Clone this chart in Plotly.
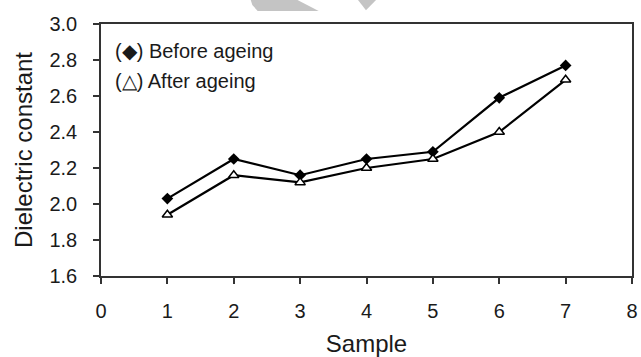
import plotly.graph_objects as go

# Dielectric constant of the seven samples, before and after ageing
samples = [1, 2, 3, 4, 5, 6, 7]
before_ageing = [2.03, 2.25, 2.16, 2.25, 2.29, 2.59, 2.77]
after_ageing = [1.94, 2.16, 2.12, 2.20, 2.25, 2.40, 2.69]

x_ticks = [0, 1, 2, 3, 4, 5, 6, 7, 8]
y_ticks = [1.6, 1.8, 2.0, 2.2, 2.4, 2.6, 2.8, 3.0]

FONT = "Liberation Sans, Arial, sans-serif"
TEXT = "#1a1a1a"

fig = go.Figure()

fig.add_trace(go.Scatter(
    x=samples, y=before_ageing, mode="lines+markers", name="Before ageing",
    line=dict(color="black", width=2.2),
    marker=dict(symbol="diamond", size=9, color="black"),
))
fig.add_trace(go.Scatter(
    x=samples, y=after_ageing, mode="lines+markers", name="After ageing",
    line=dict(color="black", width=2.2),
    marker=dict(symbol="triangle-up", size=9, color="white",
                line=dict(color="black", width=1.5)),
))

axis_common = dict(
    showline=True, linecolor="#333333", linewidth=1.5, mirror=True,
    showgrid=False, zeroline=False, automargin=False,
    ticklabeloverflow="allow",
    ticks="outside", ticklen=6, tickwidth=1.5, tickcolor="#333333",
    tickfont=dict(family=FONT, size=20, color=TEXT),
    title_font=dict(family=FONT, size=24, color=TEXT),
)

fig.update_xaxes(
    range=[0, 8], tickmode="array", tickvals=x_ticks,
    ticklabelstandoff=10,
    title_text="Sample", title_standoff=22,
    **axis_common,
)
fig.update_yaxes(
    range=[1.6, 3.0], tickmode="array", tickvals=y_ticks,
    ticktext=[f"{v:.1f}" for v in y_ticks],
    ticklabelstandoff=12,
    title_text="Dielectric constant", title_standoff=10,
    **axis_common,
)

# In-plot key
fig.add_annotation(
    x=0.022, y=0.893, xref="paper", yref="paper", xanchor="left", yanchor="middle",
    text="(\u25C6) Before ageing", showarrow=False,
    font=dict(family=FONT, size=20, color=TEXT),
)
fig.add_annotation(
    x=0.022, y=0.774, xref="paper", yref="paper", xanchor="left", yanchor="middle",
    text="(\u25B3) After ageing", showarrow=False,
    font=dict(family=FONT, size=20, color=TEXT),
)

# Light grey watermark fragments at the top edge
fig.add_shape(type="path", xref="paper", yref="paper",
              path="M 0.282 1.095 L 0.370 1.095 L 0.410 1.052 L 0.295 1.052 L 0.285 1.075 Z",
              fillcolor="#c4c4c4", line=dict(width=0), layer="above")
fig.add_shape(type="path", xref="paper", yref="paper",
              path="M 0.484 1.095 L 0.518 1.095 L 0.499 1.055 Z",
              fillcolor="#c4c4c4", line=dict(width=0), layer="above")

fig.update_layout(
    width=641, height=357,
    margin=dict(l=101, r=9, t=24, b=81),
    paper_bgcolor="white", plot_bgcolor="white",
    showlegend=False,
)

fig.write_html("out.html")
